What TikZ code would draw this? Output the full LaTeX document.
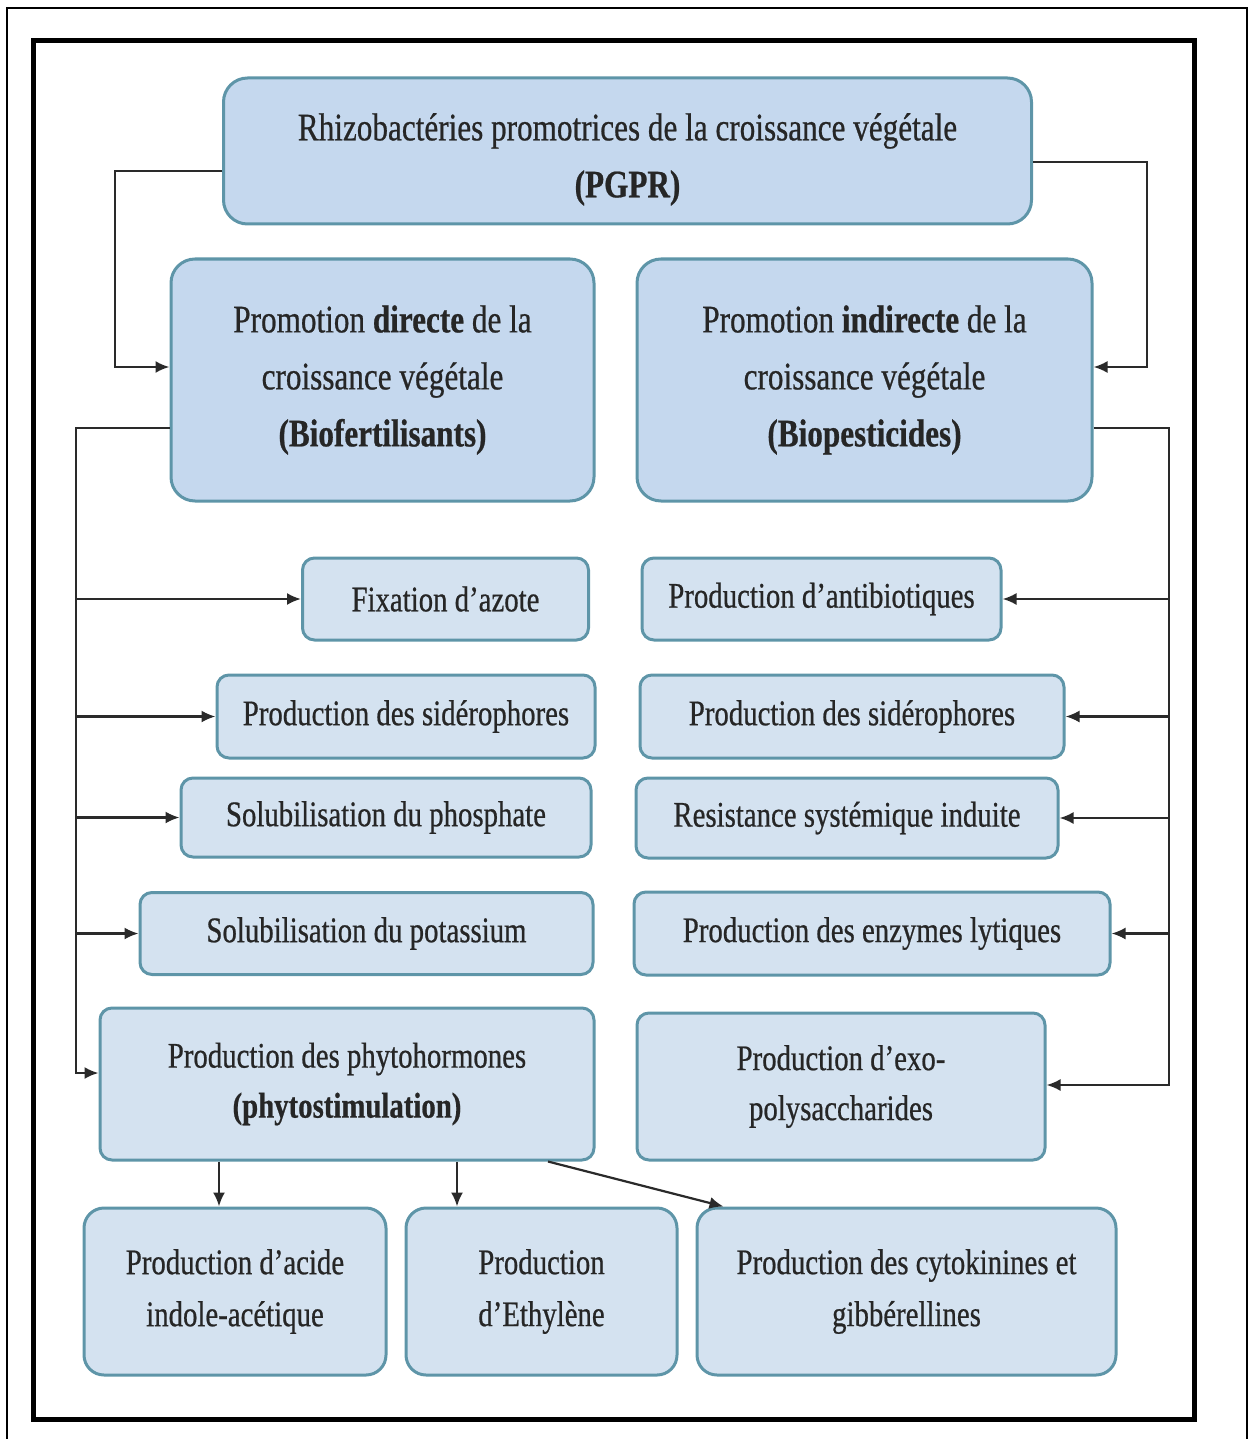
\documentclass[tikz,border=0pt]{standalone}
\usepackage{fontspec}
\setmainfont[FakeStretch=0.8, FakeBold=0.6]{Liberation Serif}
\usetikzlibrary{arrows.meta}
\definecolor{bigfill}{HTML}{C5D8EE}
\definecolor{itemfill}{HTML}{D4E2F0}
\definecolor{boxline}{HTML}{5E95A8}
\definecolor{linecol}{HTML}{2A2A2A}
\definecolor{textcol}{HTML}{262626}
\tikzset{ big/.style = { rectangle % main boxes
        , rounded corners = 12pt
        , draw = boxline
        , line width = 1.5pt
        , fill = bigfill
        , align = center
        , inner sep = 0pt
        , text = textcol
        , font = \fontsize{19.5}{28.5}\selectfont
        }
        , item/.style = { rectangle % mechanism boxes
        , rounded corners = 6pt
        , draw = boxline
        , line width = 1.5pt
        , fill = itemfill
        , align = center
        , inner sep = 0pt
        , text = textcol
        , font = \fontsize{18}{25}\selectfont
        }
        , leaf/.style = { item % hormone boxes
        , rounded corners = 10pt
        , font = \fontsize{18}{26}\selectfont
        }
        }

\begin{document}
\begin{tikzpicture}[x=0.5pt, y=-0.5pt,
        edge_style/.style={draw=linecol, line width=1.1pt, -{Latex[length=7pt,width=6pt]}}]
        \useasboundingbox (0,0) rectangle (1249,1439);
        % frames
        \draw[line width=1pt] (7,1439) -- (7,8) -- (1247,8) -- (1247,1439);
        \draw[line width=2.5pt] (33,41) rectangle (1194,1419);

        \node [big, minimum width=404pt, minimum height=73pt] (pgpr) at (627.5,151) {\rule{0pt}{22pt}Rhizobactéries promotrices de la croissance végétale\\\textbf{(PGPR)}};
        \node [big, minimum width=211.5pt, minimum height=121pt] (direct) at (382.5,380) {Promotion \textbf{directe} de la\\croissance végétale\\\textbf{(Biofertilisants)}};
        \node [big, minimum width=227.5pt, minimum height=121pt] (indirect) at (864.5,380) {Promotion \textbf{indirecte} de la\\croissance végétale\\\textbf{(Biopesticides)}};

        \node [item, minimum width=143pt, minimum height=41pt] (fix) at (445.5,599) {Fixation d’azote};
        \node [item, minimum width=189pt, minimum height=41.5pt] (sidl) at (406,716.5) {Production des sidérophores};
        \node [item, minimum width=205pt, minimum height=39.5pt] (phos) at (386,817.5) {Solubilisation du phosphate};
        \node [item, minimum width=226.5pt, minimum height=41pt] (pot) at (366.5,933.5) {Solubilisation du potassium};
        \node [item, minimum width=247pt, minimum height=76pt] (phyto) at (347,1084) {Production des phytohormones\\\textbf{(phytostimulation)}};

        \node [item, minimum width=179.5pt, minimum height=41pt] (anti) at (821.5,599) {Production d’antibiotiques};
        \node [item, minimum width=212pt, minimum height=41.5pt] (sidr) at (852,716.5) {Production des sidérophores};
        \node [item, minimum width=211pt, minimum height=40pt] (res) at (847,818) {Resistance systémique induite};
        \node [item, minimum width=238pt, minimum height=41.5pt] (enz) at (872,933.5) {Production des enzymes lytiques};
        \node [item, minimum width=204pt, minimum height=73.5pt] (exo) at (841,1086.5) {Production d’exo-\\polysaccharides};

        \node [leaf, minimum width=151pt, minimum height=83.5pt] (aia) at (235,1291.5) {Production d’acide\\indole-acétique};
        \node [leaf, minimum width=135.5pt, minimum height=83.5pt] (eth) at (541.5,1291.5) {Production\\d’Ethylène};
        \node [leaf, minimum width=209.5pt, minimum height=83.5pt] (cyto) at (906.5,1291.5) {Production des cytokinines et\\gibbérellines};

        % PGPR to both promotions
        \coordinate (lt) at (115,171);
        \coordinate (lb) at (115,367);
        \draw [edge_style] (pgpr.west |- lt) -- (lt) -- (lb) -- (direct.west |- lb);
        \coordinate (rt) at (1147,162);
        \coordinate (rb) at (1147,367);
        \draw [edge_style] (pgpr.east |- rt) -- (rt) -- (rb) -- (indirect.east |- rb);

        % direct side
        \coordinate (lx) at (76,428);
        \coordinate (ly) at (76,1073);
        \draw [edge_style] (direct.west |- lx) -- (lx) -- (ly) -- (phyto.west |- ly);
        \foreach \n in {fix, sidl, phos, pot}
            \draw [edge_style] (lx |- \n.west) -- (\n.west);

        % indirect side
        \coordinate (rx) at (1169,428);
        \coordinate (ry) at (1169,1085);
        \draw [edge_style] (indirect.east |- rx) -- (rx) -- (ry) -- (exo.east |- ry);
        \foreach \n in {anti, sidr, res, enz}
            \draw [edge_style] (rx |- \n.east) -- (\n.east);

        % phytohormones
        \coordinate (da) at (219,0);
        \coordinate (de) at (457,0);
        \coordinate (dc) at (548,0);
        \draw [edge_style] (phyto.south -| da) -- (aia.north -| da);
        \draw [edge_style] (phyto.south -| de) -- (eth.north -| de);
        \draw [edge_style] (phyto.south -| dc) -- ([xshift=14pt]cyto.north west);
\end{tikzpicture}
\end{document}
